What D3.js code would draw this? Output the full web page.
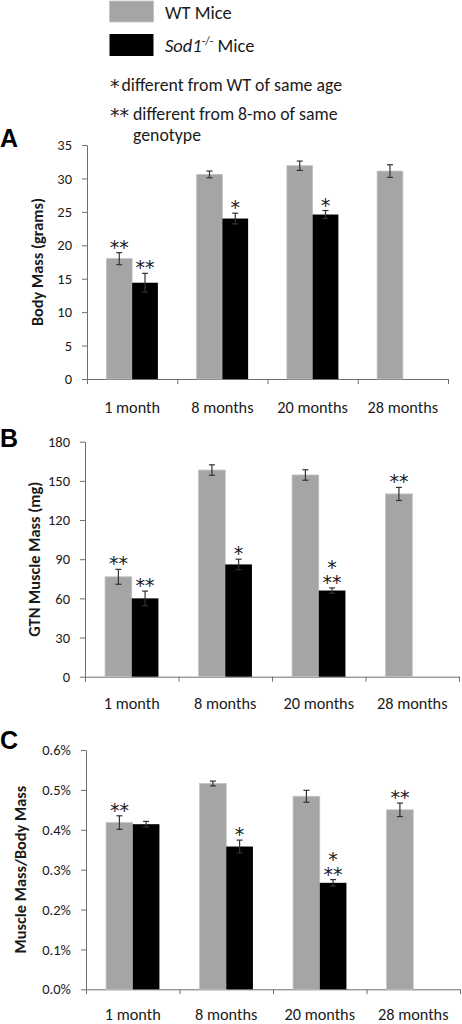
<!DOCTYPE html>
<html><head><meta charset="utf-8">
<script src="https://cdn.jsdelivr.net/npm/d3@7/dist/d3.min.js"></script>
<style>
body{margin:0;background:#fff;}
svg{display:block;font-family:Carlito,Calibri,Lato,sans-serif;}
</style></head><body>
<script>
// ---- data ----
const categories = ["1 month", "8 months", "20 months", "28 months"];
const seriesNames = ["WT Mice", "Sod1-/- Mice"];

const bodyMassTicks = [0, 5, 10, 15, 20, 25, 30, 35];
const bodyMassWT = [18.0, 30.6, 31.9, 31.1];
const bodyMassWTErr = [0.9, 0.5, 0.7, 0.95];
const bodyMassSod1 = [14.4, 24.0, 24.6, null];
const bodyMassSod1Err = [1.4, 0.8, 0.6, null];
const bodyMassWTSig = [["**"], [], [], []];
const bodyMassSod1Sig = [["**"], ["*"], ["*"], []];

const gtnTicks = [0, 30, 60, 90, 120, 150, 180];
const gtnWT = [76.5, 158.3, 154.5, 140.0];
const gtnWTErr = [5.7, 4.0, 4.0, 5.0];
const gtnSod1 = [60.0, 86.0, 66.0, null];
const gtnSod1Err = [5.6, 4.0, 2.0, null];
const gtnWTSig = [["**"], [], [], ["**"]];
const gtnSod1Sig = [["**"], ["*"], ["*", "**"], []];

const ratioTicks = [0, 0.1, 0.2, 0.3, 0.4, 0.5, 0.6];
const ratioWT = [0.418, 0.516, 0.484, 0.450];
const ratioWTErr = [0.017, 0.006, 0.015, 0.017];
const ratioSod1 = [0.414, 0.358, 0.267, null];
const ratioSod1Err = [0.007, 0.016, 0.008, null];
const ratioWTSig = [["**"], [], [], ["**"]];
const ratioSod1Sig = [[], ["*"], ["*", "**"], []];

const colors = ["#a5a5a5", "#000000"];
const textColor = "#1a1a1a";
const axisColor = "#6e6e6e";
const starFont = "DejaVu Sans, sans-serif";

const svg = d3.select("body").append("svg").attr("width", 462).attr("height", 1024);

// ---- legend ----
const lg = svg.append("g");
lg.append("rect").attr("x", 109.5).attr("y", 1).attr("width", 44).attr("height", 21)
  .attr("fill", colors[0]).attr("stroke", "#c4c4c4").attr("stroke-width", 0.8);
lg.append("rect").attr("x", 109.5).attr("y", 34).attr("width", 44).attr("height", 22)
  .attr("fill", colors[1]);
lg.append("text").attr("x", 165).attr("y", 19).attr("font-size", 18.5).attr("fill", textColor).text(seriesNames[0]);
const t2 = lg.append("text").attr("x", 165).attr("y", 52).attr("font-size", 18.5).attr("fill", textColor);
t2.append("tspan").attr("font-style", "italic").text("Sod1");
t2.append("tspan").attr("font-size", 11.5).attr("dy", -7.5).text("-/-");
t2.append("tspan").attr("dy", 7.5).text(" Mice");

const notes = [
  {star: "*", text: "different from WT of same age", y: 90.5, sx: 110, tx: 121.5},
  {star: "**", text: "different from 8-mo of same", y: 119.5, sx: 110, tx: 133},
  {star: "", text: "genotype", y: 141, sx: 110, tx: 133}
];
notes.forEach(n => {
  if (n.star) lg.append("text").attr("x", n.sx).attr("y", n.y + 2).attr("font-family", starFont)
    .attr("font-size", 19).attr("fill", textColor).text(n.star);
  lg.append("text").attr("x", n.tx).attr("y", n.y).attr("font-size", 17.8).attr("fill", textColor).text(n.text);
});

// ---- panels ----
const panels = [
  {letter: "A", letterY: 147, x0: 87, x1: 448, yBottom: 379, yTop: 145, ticks: bodyMassTicks, fmt: d3.format("d"),
   title: "Body Mass (grams)", titleX: 37, labelPad: 22,
   wt: bodyMassWT, wtErr: bodyMassWTErr, sod: bodyMassSod1, sodErr: bodyMassSod1Err, wtSig: bodyMassWTSig, sodSig: bodyMassSod1Sig},
  {letter: "B", letterY: 447, x0: 85, x1: 459, yBottom: 676.7, yTop: 441.7, ticks: gtnTicks, fmt: d3.format("d"),
   title: "GTN Muscle Mass (mg)", titleX: 34, labelPad: 21,
   wt: gtnWT, wtErr: gtnWTErr, sod: gtnSod1, sodErr: gtnSod1Err, wtSig: gtnWTSig, sodSig: gtnSod1Sig},
  {letter: "C", letterY: 749, x0: 86, x1: 460, yBottom: 989.3, yTop: 750, ticks: ratioTicks, fmt: d => d.toFixed(1) + "%",
   title: "Muscle Mass/Body Mass", titleX: 20, labelPad: 19.5,
   wt: ratioWT, wtErr: ratioWTErr, sod: ratioSod1, sodErr: ratioSod1Err, wtSig: ratioWTSig, sodSig: ratioSod1Sig}
];

panels.forEach(p => {
  const g = svg.append("g");
  const ticks = p.ticks;
  const y = d3.scaleLinear().domain([ticks[0], ticks[ticks.length - 1]]).range([p.yBottom, p.yTop]);
  const x = d3.scaleBand().domain(categories).range([p.x0, p.x1]).padding(0);
  const xSub = d3.scaleBand().domain([0, 1]).range([0, x.bandwidth()]).paddingInner(0).paddingOuter(0.752);
  const xEdge = d3.scaleLinear().domain([0, categories.length]).range([p.x0, p.x1]);

  // panel letter
  g.append("text").attr("x", 0).attr("y", p.letterY).attr("font-family", "Liberation Sans, Arial, sans-serif")
    .attr("font-weight", "bold").attr("font-size", 25).attr("fill", "#000").text(p.letter);

  // y axis
  const ya = g.append("g").attr("transform", `translate(${p.x0},0)`)
    .call(d3.axisLeft(y).tickValues(ticks).tickFormat(p.fmt).tickSize(5).tickSizeOuter(0).tickPadding(10));
  ya.select(".domain").attr("stroke", axisColor);
  ya.selectAll(".tick line").attr("stroke", axisColor);
  ya.selectAll(".tick text").attr("font-family", "Carlito,Calibri,Lato,sans-serif").attr("font-size", 14.5).attr("fill", textColor);

  // x axis (boundary ticks)
  const xa = g.append("g").attr("transform", `translate(0,${p.yBottom})`)
    .call(d3.axisBottom(xEdge).tickValues(d3.range(categories.length + 1)).tickFormat("").tickSize(5).tickSizeOuter(0));
  xa.select(".domain").attr("stroke", axisColor);
  xa.selectAll(".tick line").attr("stroke", axisColor);
  const xl = g.append("g").attr("transform", `translate(0,${p.yBottom})`)
    .call(d3.axisBottom(x).tickSize(0).tickPadding(p.labelPad));
  xl.select(".domain").remove();
  xl.selectAll(".tick text").attr("font-family", "Carlito,Calibri,Lato,sans-serif").attr("font-size", 16.3).attr("fill", textColor);

  // y title
  g.append("text").attr("transform", `translate(${p.titleX},${(p.yBottom + p.yTop) / 2}) rotate(-90)`)
    .attr("text-anchor", "middle").attr("dominant-baseline", "central")
    .attr("font-weight", "bold").attr("font-size", 16.3).attr("fill", textColor).text(p.title);

  // bars
  const series = [
    {vals: p.wt, errs: p.wtErr, sig: p.wtSig, color: colors[0], idx: 0},
    {vals: p.sod, errs: p.sodErr, sig: p.sodSig, color: colors[1], idx: 1}
  ];
  series.forEach(s => {
    const data = categories.map((c, i) => ({c, v: s.vals[i], e: s.errs[i], sig: s.sig[i]})).filter(d => d.v != null);
    const bx = d => x(d.c) + xSub(s.idx);
    g.selectAll(null).data(data).enter().append("rect")
      .attr("x", bx).attr("y", d => y(d.v)).attr("width", xSub.bandwidth()).attr("height", d => y(0) - y(d.v))
      .attr("fill", s.color).attr("stroke", s.idx === 0 ? "#c2c2c2" : "none").attr("stroke-width", 0.8);
    const eg = g.selectAll(null).data(data).enter().append("g")
      .attr("transform", d => `translate(${bx(d) + xSub.bandwidth() / 2},0)`);
    eg.append("line").attr("y1", d => y(d.v - d.e)).attr("y2", d => y(d.v + d.e)).attr("stroke", "#333").attr("stroke-width", 1.2);
    eg.append("line").attr("x1", -3).attr("x2", 3).attr("y1", d => y(d.v + d.e)).attr("y2", d => y(d.v + d.e)).attr("stroke", "#333").attr("stroke-width", 1.2);
    eg.append("line").attr("x1", -3).attr("x2", 3).attr("y1", d => y(d.v - d.e)).attr("y2", d => y(d.v - d.e)).attr("stroke", "#333").attr("stroke-width", 1.2);
    // significance marks (stacked lines in a single text element)
    eg.filter(d => d.sig.length > 0).each(function(d) {
      const lines = d.sig;
      const n = lines.length;
      const t = d3.select(this).append("text").attr("text-anchor", "middle")
        .attr("font-family", starFont).attr("font-size", 19).attr("fill", textColor);
      lines.forEach((txt, k) => {
        t.append("tspan").attr("x", 0)
          .attr("y", y(d.v + d.e) + 1 - (n - 1 - k) * 15)
          .text(txt);
      });
    });
  });
});
</script>
</body></html>
